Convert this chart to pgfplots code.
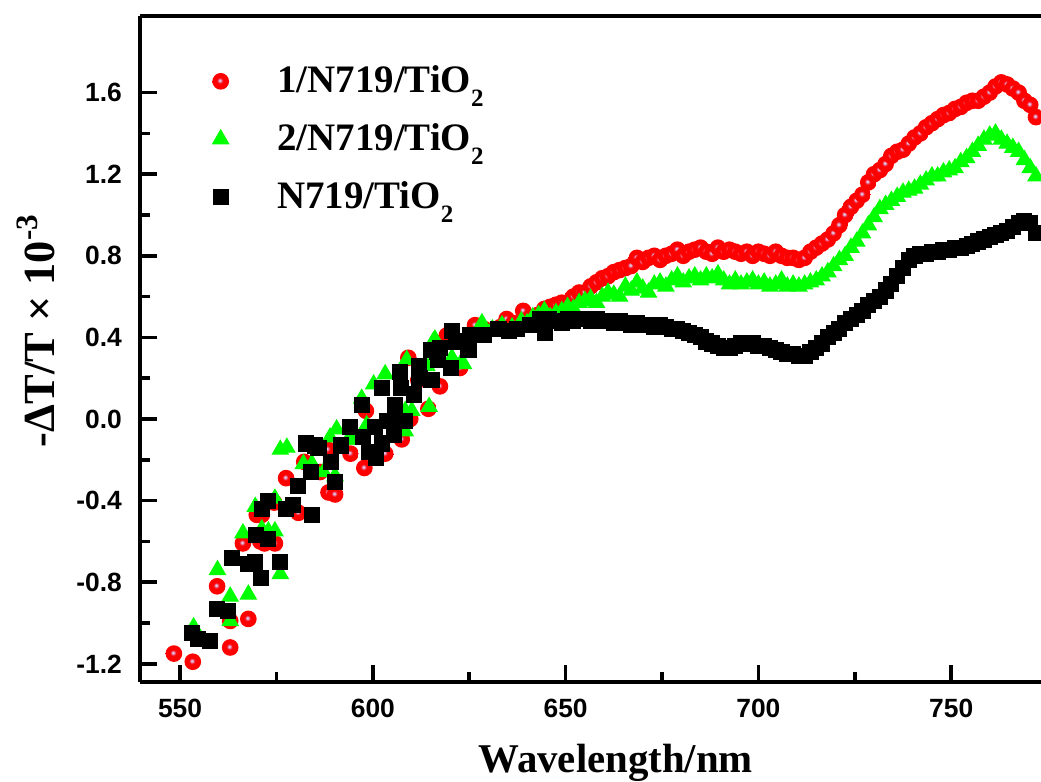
\documentclass[border=0pt]{standalone}
\usepackage{fontspec}
\setmainfont{Liberation Serif}
\newfontfamily\arialfont{Liberation Sans}
\usepackage{pgfplots}
\pgfplotsset{compat=1.18}
\usepackage{pgfplotstable}

\definecolor{ptred}{RGB}{255,0,0}
\definecolor{ptgreen}{RGB}{0,255,0}
\definecolor{ballmid}{RGB}{225,100,140}
\definecolor{ballhi}{RGB}{230,205,230}

% shiny red sphere like the original markers
\pgfdeclareradialshading{rballshade}{\pgfpoint{-3bp}{3bp}}{%
  color(0bp)=(ballhi); color(2bp)=(ballhi); color(5bp)=(ballmid);
  color(9bp)=(ptred); color(50bp)=(ptred)}
\pgfdeclareplotmark{redball}{%
  \pgfpathcircle{\pgfpointorigin}{\pgfplotmarksize}%
  \pgfshadepath{rballshade}{0}%
  \pgfusepath{}%
}

% legend: marker in the middle of a wide image
\pgfplotsset{lgmark/.style={legend image code/.code={%
    \draw[##1] plot coordinates {(0.56cm,0cm)};
    \path (0cm,0cm) (1.2cm,0cm);}}}
\newcommand{\sub}[1]{\raisebox{-5pt}{\fontsize{9}{9}\selectfont #1}}

% 1/N719/TiO2
\pgfplotstableread{
nm dT
548.4 -1.15
553.3 -1.19
559.6 -0.82
563.0 -0.99
563.0 -1.12
566.3 -0.61
567.7 -0.98
569.9 -0.47
571.2 -0.47
570.8 -0.60
571.9 -0.61
574.6 -0.61
574.4 -0.41
577.5 -0.29
580.7 -0.46
582.2 -0.21
586.3 -0.26
588.3 -0.15
588.5 -0.36
590.2 -0.37
594.2 -0.17
597.8 -0.24
598.2 0.04
603.2 -0.17
607.5 -0.10
609.7 0.00
609.2 0.30
611.8 0.19
614.4 0.05
617.4 0.16
619.2 0.41
622.6 0.25
624.5 0.38
626.5 0.46
627.5 0.42
629.0 0.44
633.0 0.45
634.7 0.49
636.5 0.47
639.0 0.53
641.0 0.50
642.8 0.51
644.5 0.54
646.0 0.55
647.5 0.56
649.0 0.57
650.5 0.57
652.0 0.60
653.5 0.62
655.0 0.62
656.5 0.65
658.0 0.67
659.5 0.69
661.0 0.70
662.5 0.72
664.0 0.73
665.5 0.74
667.0 0.75
668.5 0.79
670.0 0.77
671.5 0.79
673.0 0.80
674.5 0.78
676.0 0.80
677.5 0.81
679.0 0.83
680.5 0.80
682.0 0.82
683.5 0.83
685.0 0.84
686.5 0.82
688.0 0.81
689.5 0.84
691.0 0.82
692.5 0.83
694.0 0.82
695.5 0.81
697.0 0.82
698.5 0.80
700.0 0.82
701.5 0.81
703.0 0.80
704.5 0.82
706.0 0.80
707.5 0.79
709.0 0.79
710.5 0.78
712.0 0.79
713.5 0.82
715.0 0.84
716.5 0.86
718.0 0.88
719.5 0.91
721.0 0.95
722.5 1.00
724.0 1.04
725.5 1.07
727.0 1.10
728.5 1.16
730.0 1.20
731.5 1.22
733.0 1.25
734.5 1.29
736.0 1.31
737.5 1.32
739.0 1.35
740.5 1.38
742.0 1.40
743.5 1.43
745.0 1.45
746.5 1.47
748.0 1.49
749.5 1.50
751.0 1.52
752.5 1.53
754.0 1.55
755.5 1.56
757.0 1.56
758.5 1.58
760.0 1.60
761.5 1.63
763.0 1.65
764.5 1.64
766.0 1.62
767.5 1.60
769.0 1.56
770.5 1.54
772.0 1.48
}\redtab

% 2/N719/TiO2
\pgfplotstableread{
nm dT
553.5 -1.02
559.7 -0.74
563.0 -0.87
563.0 -0.99
566.3 -0.56
567.7 -0.86
569.5 -0.43
571.2 -0.54
572.9 -0.55
574.6 -0.55
574.6 -0.39
576.0 -0.76
576.0 -0.15
577.7 -0.14
582.0 -0.22
584.2 -0.22
587.2 -0.26
588.9 -0.09
590.2 -0.28
590.6 -0.05
593.7 -0.10
595.0 -0.10
597.1 0.10
598.4 -0.03
600.2 0.17
603.2 0.22
608.4 -0.06
608.4 0.04
608.8 0.29
610.1 0.04
614.0 0.26
614.6 0.06
615.7 0.38
616.1 0.39
620.5 0.30
623.0 0.28
623.5 0.27
628.3 0.47
631.0 0.44
633.5 0.46
636.1 0.45
638.5 0.48
640.0 0.47
641.5 0.50
643.0 0.51
644.5 0.53
646.0 0.50
647.5 0.52
649.0 0.53
650.5 0.55
652.0 0.54
653.5 0.57
655.0 0.58
656.5 0.59
658.0 0.57
659.5 0.60
661.0 0.62
662.5 0.61
664.0 0.60
665.5 0.65
667.0 0.63
668.5 0.67
670.0 0.64
671.5 0.62
673.0 0.66
674.5 0.67
676.0 0.65
677.5 0.68
679.0 0.70
680.5 0.67
682.0 0.69
683.5 0.70
685.0 0.68
686.5 0.70
688.0 0.69
689.5 0.71
691.0 0.68
692.5 0.66
694.0 0.68
695.5 0.66
697.0 0.67
698.5 0.68
700.0 0.66
701.5 0.67
703.0 0.65
704.5 0.66
706.0 0.68
707.5 0.65
709.0 0.66
710.5 0.65
712.0 0.66
713.5 0.67
715.0 0.68
716.5 0.70
718.0 0.72
719.5 0.75
721.0 0.78
722.5 0.80
724.0 0.84
725.5 0.87
727.0 0.91
728.5 0.95
730.0 0.99
731.5 1.03
733.0 1.05
734.5 1.07
736.0 1.09
737.5 1.11
739.0 1.12
740.5 1.13
742.0 1.15
743.5 1.17
745.0 1.19
746.5 1.19
748.0 1.21
749.5 1.22
751.0 1.23
752.5 1.26
754.0 1.28
755.5 1.31
757.0 1.34
758.5 1.37
760.0 1.39
761.5 1.40
763.0 1.37
764.5 1.35
766.0 1.33
767.5 1.31
769.0 1.27
770.5 1.23
772.0 1.19
}\greentab

% N719/TiO2
\pgfplotstableread{
nm dT
553.0 -1.05
554.7 -1.08
557.8 -1.09
559.5 -0.93
562.5 -0.94
563.4 -0.68
567.7 -0.71
569.5 -0.70
571.0 -0.78
576.0 -0.70
569.7 -0.57
572.9 -0.59
571.2 -0.44
572.9 -0.40
577.5 -0.44
579.4 -0.42
584.2 -0.47
580.5 -0.33
584.0 -0.26
582.6 -0.12
585.0 -0.13
585.9 -0.14
589.1 -0.21
590.2 -0.31
591.7 -0.13
594.1 -0.04
597.4 -0.09
599.1 -0.16
600.8 -0.19
600.6 -0.04
602.3 -0.12
605.5 -0.08
603.8 -0.01
608.2 -0.01
597.1 0.07
605.8 0.07
602.3 0.15
607.3 0.15
610.7 0.12
607.1 0.23
612.0 0.26
612.1 0.20
615.2 0.19
615.2 0.34
616.6 0.33
617.4 0.35
620.3 0.25
617.0 0.29
620.5 0.43
621.6 0.38
624.8 0.34
625.2 0.41
628.7 0.41
632.6 0.44
635.2 0.43
637.3 0.44
640.8 0.46
643.4 0.49
644.7 0.42
645.6 0.49
647.5 0.48
649.0 0.47
650.5 0.49
652.0 0.48
653.5 0.49
655.0 0.49
656.5 0.48
658.0 0.49
659.5 0.48
661.0 0.48
662.5 0.47
664.0 0.48
665.5 0.47
667.0 0.46
668.5 0.47
670.0 0.46
671.5 0.46
673.0 0.45
674.5 0.46
676.0 0.45
677.5 0.44
679.0 0.44
680.5 0.43
682.0 0.42
683.5 0.41
685.0 0.40
686.5 0.38
688.0 0.37
689.5 0.36
691.0 0.35
692.5 0.35
694.0 0.36
695.5 0.37
697.0 0.37
698.5 0.37
700.0 0.36
701.5 0.36
703.0 0.35
704.5 0.34
706.0 0.33
707.5 0.32
709.0 0.32
710.5 0.31
712.0 0.31
713.5 0.33
715.0 0.35
716.5 0.37
718.0 0.40
719.5 0.42
721.0 0.44
722.5 0.47
724.0 0.49
725.5 0.51
727.0 0.53
728.5 0.56
730.0 0.58
731.5 0.60
733.0 0.63
734.5 0.66
736.0 0.70
737.5 0.74
739.0 0.78
740.5 0.80
742.0 0.81
743.5 0.81
745.0 0.82
746.5 0.82
748.0 0.83
749.5 0.83
751.0 0.84
752.5 0.84
754.0 0.85
755.5 0.86
757.0 0.87
758.5 0.88
760.0 0.89
761.5 0.90
763.0 0.91
764.5 0.92
766.0 0.94
767.5 0.96
769.0 0.97
770.5 0.96
772.0 0.91
}\blacktab

\begin{document}
\begin{tikzpicture}
\begin{axis}[
    scale only axis,
    width=324.4pt, height=239.8pt,
    xmin=539.6, xmax=773.3,
    ymin=-1.29, ymax=1.975,
    axis x line*=box, axis y line*=left,
    axis line style={line width=1.45pt, black},
    xtick={550,600,650,700,750},
    ytick={-1.2,-0.8,-0.4,0,0.4,0.8,1.2,1.6},
    minor x tick num=1, minor y tick num=1,
    xtick pos=bottom, ytick pos=left,
    tick align=inside,
    major tick length=6pt, minor tick length=3.6pt,
    every tick/.style={line width=1.3pt, black},
    /pgf/number format/assume math mode=true,
    tick label style={font=\arialfont\bfseries\fontsize{9.5}{11}\selectfont},
    yticklabel style={/pgf/number format/.cd, fixed, fixed zerofill, precision=1, /tikz/.cd, xshift=-3pt},
    xticklabel style={yshift=-2.5pt},
    xlabel={Wavelength/nm},
    xlabel style={font=\bfseries\fontsize{14.7}{16}\selectfont,
        at={(axis description cs:0.528,0)}, anchor=base, yshift=-32.4pt},
    ylabel={-ΔT/T × 10\textsuperscript{-3}},
    ylabel style={font=\bfseries\fontsize{16}{18}\selectfont,
        at={(axis description cs:0,0.528)}, anchor=base, yshift=30.6pt},
    legend style={draw=none, fill=none,
        at={(axis description cs:0.03,0.943)}, anchor=north west,
        font=\bfseries\fontsize{14}{16}\selectfont, row sep=5.6pt},
    legend cell align=left,
]
\addplot[only marks, mark=redball, mark size=3.0pt, lgmark]
    table[x=nm, y=dT] {\redtab};
\addlegendentry{1/N719/TiO\sub{2}}
\addplot[only marks, mark=triangle*, mark size=3.3pt, color=ptgreen, lgmark]
    table[x=nm, y=dT] {\greentab};
\addlegendentry{2/N719/TiO\sub{2}}
\addplot[only marks, mark=square*, mark size=2.7pt, color=black, lgmark]
    table[x=nm, y=dT] {\blacktab};
\addlegendentry{N719/TiO\sub{2}}
\end{axis}
\pgfresetboundingbox
\useasboundingbox ([xshift=-50.4pt, yshift=-35.6pt]current axis.south west)
    rectangle ([yshift=5.8pt]current axis.north east);
\end{tikzpicture}
\end{document}
